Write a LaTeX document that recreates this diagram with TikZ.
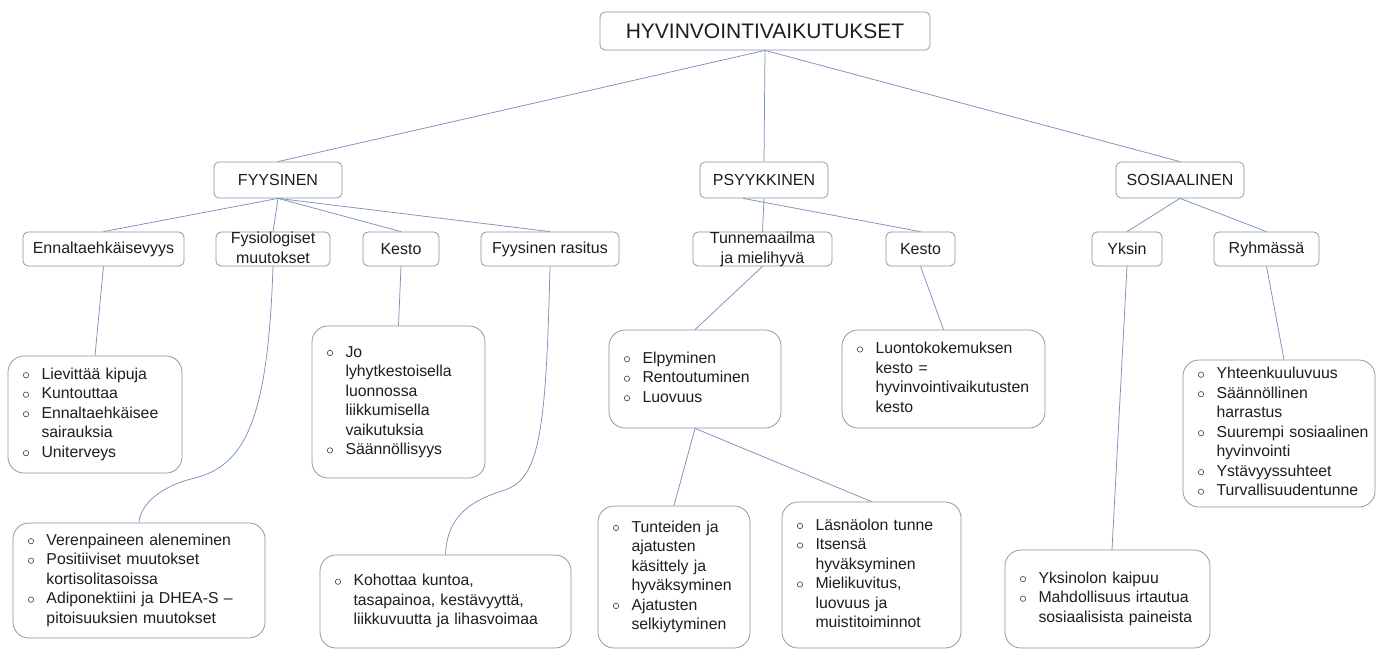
\documentclass[tikz,border=0pt]{standalone}
\usepackage{fontspec}
\setmainfont{Liberation Sans}
\definecolor{boxcol}{RGB}{138,148,162}
\definecolor{linecol}{RGB}{120,148,186}
\definecolor{txtcol}{RGB}{30,30,30}
\newcommand{\bu}{\raisebox{1.2pt}{\tikz\draw[draw=txtcol!85, line width=0.6pt] (0,0) circle (2.7pt);}}
\newcommand{\lst}[1]{\begin{tabular}{@{\hspace{2pt}}l@{\hspace{12.5pt}}l@{}}#1\end{tabular}}
\newcommand{\twol}[2]{\smash{\raisebox{-5pt}{\begin{tabular}{@{}c@{}}#1\\#2\end{tabular}}}}
\tikzset{
  hbox/.style={draw=boxcol, line width=0.75pt, rounded corners=5pt, inner sep=0pt, fill=white, text=txtcol, font=\fontsize{16}{19}\selectfont},
  lbox/.style={draw=boxcol, line width=0.75pt, rounded corners=16pt, inner xsep=13pt, inner ysep=0pt, align=left, fill=white, text=txtcol, font=\fontsize{15.8}{19.5}\selectfont},
  conn/.style={draw=linecol, line width=0.75pt},
}
\begin{document}
\begin{tikzpicture}[x=1pt,y=-1pt]
\useasboundingbox[fill=white] (0,0) rectangle (1380,650);
% level 0 and 1
\node[hbox, minimum width=330pt, minimum height=38pt, font=\fontsize{21}{24}\selectfont] (top) at (765,31) {HYVINVOINTIVAIKUTUKSET};
\node[hbox, minimum width=128pt, minimum height=36pt] (fyys) at (278,180) {FYYSINEN};
\node[hbox, minimum width=128pt, minimum height=36pt] (psy) at (764,180) {PSYYKKINEN};
\node[hbox, minimum width=128pt, minimum height=36pt] (sos) at (1180,180) {SOSIAALINEN};
% level 2
\node[hbox, minimum width=161pt, minimum height=34pt] (enn) at (103.5,249) {Ennaltaehkäisevyys};
\node[hbox, minimum width=114pt, minimum height=34pt, font=\fontsize{16}{20}\selectfont] (fys) at (273,249) {\twol{Fysiologiset}{muutokset}};
\node[hbox, minimum width=76pt, minimum height=34pt] (kes1) at (401,249) {Kesto};
\node[hbox, minimum width=138pt, minimum height=34pt] (ras) at (550,249) {Fyysinen rasitus};
\node[hbox, minimum width=139pt, minimum height=34pt, font=\fontsize{16}{20}\selectfont] (tun) at (762.5,249) {\twol{Tunnemaailma}{ja mielihyvä}};
\node[hbox, minimum width=69pt, minimum height=34pt] (kes2) at (920.5,249) {Kesto};
\node[hbox, minimum width=70pt, minimum height=34pt] (yks) at (1127,249) {Yksin};
\node[hbox, minimum width=105pt, minimum height=34pt] (ryh) at (1266.5,249) {Ryhmässä};
% lists
\node[lbox, text width=148pt, minimum height=117pt] (ennl) at (95,414.5) {\lst{\bu & Lievittää kipuja\\ \bu & Kuntouttaa\\ \bu & Ennaltaehkäisee\\ & sairauksia\\ \bu & Uniterveys}};
\node[lbox, text width=147pt, minimum height=152pt] (kesl) at (398.5,402) {\lst{\bu & Jo\\ & lyhytkestoisella\\ & luonnossa\\ & liikkumisella\\ & vaikutuksia\\ \bu & Säännöllisyys}};
\node[lbox, text width=226pt, minimum height=115pt] (verl) at (139,580.5) {\lst{\bu & Verenpaineen aleneminen\\ \bu & Positiiviset muutokset\\ & kortisolitasoissa\\ \bu & Adiponektiini ja DHEA-S –\\ & pitoisuuksien muutokset}};
\node[lbox, text width=225pt, minimum height=93pt] (kohl) at (445.5,601.5) {\lst{\bu & Kohottaa kuntoa,\\ & tasapainoa, kestävyyttä,\\ & liikkuvuutta ja lihasvoimaa}};
\node[lbox, text width=146pt, minimum height=98pt] (elpl) at (695,379) {\lst{\bu & Elpyminen\\ \bu & Rentoutuminen\\ \bu & Luovuus}};
\node[lbox, text width=177pt, minimum height=98pt] (luol) at (943.5,379) {\lst{\bu & Luontokokemuksen\\ & kesto =\\ & hyvinvointivaikutusten\\ & kesto}};
\node[lbox, text width=126pt, minimum height=142pt] (tunl) at (674,577) {\lst{\bu & Tunteiden ja\\ & ajatusten\\ & käsittely ja\\ & hyväksyminen\\ \bu & Ajatusten\\ & selkiytyminen}};
\node[lbox, text width=153pt, minimum height=146pt] (lasl) at (871.5,575) {\lst{\bu & Läsnäolon tunne\\ \bu & Itsensä\\ & hyväksyminen\\ \bu & Mielikuvitus,\\ & luovuus ja\\ & muistitoiminnot}};
\node[lbox, text width=179pt, minimum height=98pt] (yksl) at (1107.5,599) {\lst{\bu & Yksinolon kaipuu\\ \bu & Mahdollisuus irtautua\\ & sosiaalisista paineista}};
\node[lbox, text width=166pt, minimum height=147pt] (yhtl) at (1279,433.5) {\lst{\bu & Yhteenkuuluvuus\\ \bu & Säännöllinen\\ & harrastus\\ \bu & Suurempi sosiaalinen\\ & hyvinvointi\\ \bu & Ystävyyssuhteet\\ \bu & Turvallisuudentunne}};
% connectors
\draw[conn] (top.south) -- (fyys.north);
\draw[conn] (top.south) -- (psy.north);
\draw[conn] (top.south) -- (sos.north);
\draw[conn] (fyys.south) -- (enn.north);
\draw[conn] (fyys.south) -- (fys.north);
\draw[conn] (fyys.south) -- (kes1.north);
\draw[conn] (fyys.south) -- (ras.north);
\draw[conn] (psy.south) -- (tun.north);
\draw[conn] ([xshift=-21pt]psy.south) -- (kes2.north);
\draw[conn] (sos.south) -- (yks.north);
\draw[conn] (sos.south) -- (ryh.north);
\draw[conn] (enn.south) -- (ennl.north);
\draw[conn] (fys.south) .. controls (268,420) and (245,465) .. (195,478) .. controls (160,486) and (140,505) .. (verl.north);
\draw[conn] (kes1.south) -- (kesl.north);
\draw[conn] (ras.south) .. controls (546,430) and (540,478) .. (505,490) .. controls (465,502) and (447,520) .. (kohl.north);
\draw[conn] (tun.south) -- (elpl.north);
\draw[conn] (kes2.south) -- (luol.north);
\draw[conn] (elpl.south) -- (tunl.north);
\draw[conn] (elpl.south) -- (lasl.north);
\draw[conn] (yks.south) -- ([xshift=4.5pt]yksl.north);
\draw[conn] (ryh.south) -- ([xshift=5pt]yhtl.north);
\end{tikzpicture}
\end{document}
